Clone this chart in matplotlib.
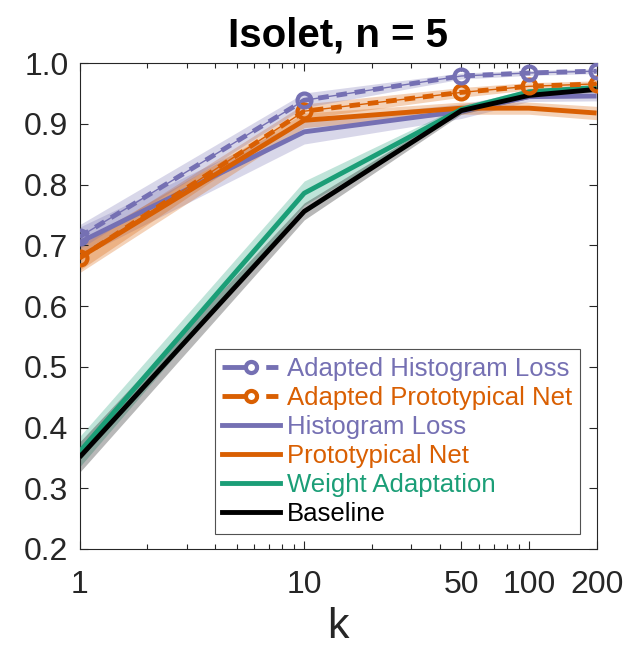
import numpy as np
import matplotlib
matplotlib.use("Agg")
from matplotlib import pyplot as plt
from matplotlib.lines import Line2D
from matplotlib.ticker import FixedLocator, LogLocator, NullFormatter

plt.rcParams['font.family'] = ['Liberation Sans', 'DejaVu Sans']

k = [1, 10, 50, 100, 200]

# mean accuracy and spread per method
adapted_hist = [0.714, 0.939, 0.979, 0.984, 0.987]
adapted_hist_sd = [0.020, 0.012, 0.005, 0.004, 0.004]
adapted_proto = [0.679, 0.921, 0.952, 0.962, 0.966]
adapted_proto_sd = [0.020, 0.012, 0.008, 0.006, 0.005]
hist_loss = [0.705, 0.887, 0.921, 0.945, 0.946]
hist_loss_sd = [0.025, 0.020, 0.012, 0.008, 0.008]
proto_net = [0.680, 0.906, 0.926, 0.926, 0.918]
proto_net_sd = [0.025, 0.012, 0.010, 0.010, 0.011]
weight_adapt = [0.360, 0.786, 0.924, 0.953, 0.960]
weight_adapt_sd = [0.025, 0.020, 0.006, 0.005, 0.004]
baseline = [0.351, 0.756, 0.922, 0.947, 0.957]
baseline_sd = [0.025, 0.014, 0.006, 0.005, 0.004]

purple = '#7570b3'
orange = '#d95f02'
green = '#1b9e77'
black = '#000000'
grey = '#262626'

fig = plt.figure(figsize=(6.26, 6.52), dpi=100)
ax = fig.add_axes([0.127, 0.158, 0.826, 0.745])


def band(y, sd, color):
    y = np.array(y)
    sd = np.array(sd)
    ax.fill_between(k, y - sd, y + sd, color=color, alpha=0.28, lw=0)


solid = [
    (hist_loss, hist_loss_sd, purple),
    (proto_net, proto_net_sd, orange),
    (weight_adapt, weight_adapt_sd, green),
    (baseline, baseline_sd, black),
]
for y, sd, c in solid:
    band(y, sd, c)
    ax.plot(k, y, color=c, lw=3.5, solid_capstyle='butt', zorder=3)

for y, sd, c in [(adapted_proto, adapted_proto_sd, orange),
                 (adapted_hist, adapted_hist_sd, purple)]:
    band(y, sd, c)
    ax.plot(k, y, color=c, lw=1.0, zorder=4)
    ax.plot(k, y, color=c, lw=3.5, ls=(0, (2.2, 1.6)), zorder=4)
    ax.plot(k, y, color=c, lw=0, marker='o', ms=10, mew=3,
            mfc='none', mec=c, zorder=5)

ax.set_xscale('log')
ax.set_xlim(1, 200)
ax.set_ylim(0.2, 1.0)
ax.xaxis.set_major_locator(FixedLocator(k))
ax.set_xticklabels(['1', '10', '50', '100', '200'])
ax.xaxis.set_minor_locator(LogLocator(base=10, subs=np.arange(2, 10)))
ax.xaxis.set_minor_formatter(NullFormatter())
ax.set_yticks(np.arange(0.2, 1.01, 0.1))
ax.set_yticklabels([f'{v:.1f}' for v in np.arange(0.2, 1.01, 0.1)])

ax.tick_params(which='both', direction='in', top=True, right=True,
               colors=grey, labelcolor=grey)
ax.tick_params(which='major', length=6, width=0.8, labelsize=23)
ax.tick_params(axis='y', which='major', pad=8)
ax.tick_params(axis='x', which='major', pad=15)
ax.tick_params(which='minor', length=3.5, width=0.8)
for s in ax.spines.values():
    s.set_color(grey)
    s.set_linewidth(0.8)

ax.set_xlabel('k', fontsize=31, color=grey, labelpad=5)
ax.set_title('Isolet, n = 5', fontsize=29, fontweight='bold', pad=12)

# legend swatch for the adapted runs: solid stub, marker, then one dash
adapted_dash = (0, (7.4, 1.6, 2.5, 10))
handles = [
    Line2D([], [], color=purple, lw=3.5, ls=adapted_dash, marker='o',
           ms=8, mew=3, mfc='white'),
    Line2D([], [], color=orange, lw=3.5, ls=adapted_dash, marker='o',
           ms=8, mew=3, mfc='white'),
    Line2D([], [], color=purple, lw=3.5),
    Line2D([], [], color=orange, lw=3.5),
    Line2D([], [], color=green, lw=3.5),
    Line2D([], [], color=black, lw=3.5),
]
names = ['Adapted Histogram Loss', 'Adapted Prototypical Net', 'Histogram Loss',
         'Prototypical Net', 'Weight Adaptation', 'Baseline']
colors = [purple, orange, purple, orange, green, black]
leg = ax.legend(handles, names, loc='lower right', bbox_to_anchor=(0.967, 0.031),
                fontsize=18.5, frameon=True, fancybox=False, handlelength=2.25,
                handletextpad=0.25, borderpad=0.3, labelspacing=0.2,
                borderaxespad=0)
leg.get_frame().set_edgecolor(grey)
leg.get_frame().set_linewidth(0.8)
for t, c in zip(leg.get_texts(), colors):
    t.set_color(c)

fig.savefig('out.png', dpi=100)
